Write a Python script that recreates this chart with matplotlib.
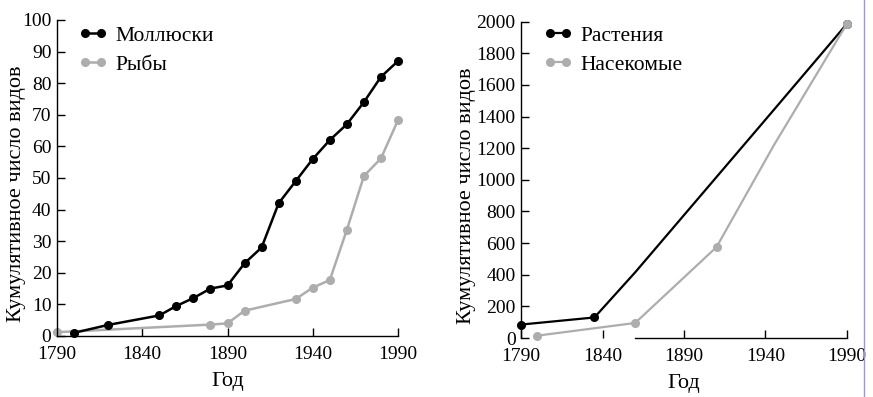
import matplotlib
matplotlib.use("Agg")
import matplotlib.pyplot as plt
from matplotlib.lines import Line2D

plt.rcParams['font.family'] = ['Liberation Serif', 'DejaVu Serif']

# левая панель
years_moll = [1800, 1820, 1850, 1860, 1870, 1880, 1890, 1900, 1910, 1920,
              1930, 1940, 1950, 1960, 1970, 1980, 1990]
moll = [1, 3.5, 6.5, 9.5, 12, 15, 16, 23, 28, 42, 49, 56, 62, 67, 74, 82, 87]
years_fish = [1790, 1880, 1890, 1900, 1930, 1940, 1950, 1960, 1970, 1980, 1990]
fish = [1.2, 3.6, 4, 8, 11.7, 15.3, 17.7, 33.6, 50.6, 56.2, 68.3]

# правая панель
years_plant = [1790, 1835, 1860, 1945, 1990]
plant = [85, 130, 415, 1440, 1985]
plant_marks = [0, 1, 4]
years_ins = [1800, 1860, 1910, 1945, 1990]
insects = [15, 95, 575, 1215, 1985]
ins_marks = [0, 1, 2, 4]

xticks = [1790, 1840, 1890, 1940, 1990]
black = '#000000'
grey = '#adadad'

fig = plt.figure(figsize=(8.73, 3.97), dpi=100)
ax1 = fig.add_axes([0.0653, 0.1537, 0.3906, 0.796])
ax2 = fig.add_axes([0.597, 0.1486, 0.373, 0.797])

ax1.plot(years_fish, fish, color=grey, lw=1.8, marker='o', ms=5.5, label='Рыбы', zorder=2)
ax1.plot(years_moll, moll, color=black, lw=1.8, marker='o', ms=5.5, label='Моллюски', zorder=3)
ax1.set_xlim(1790, 1990)
ax1.set_ylim(0, 100)
ax1.set_yticks(range(0, 101, 10))

ax2.plot(years_plant, plant, color=black, lw=1.6, marker='o', ms=5.5, markevery=plant_marks,
         label='Растения', zorder=2)
ax2.plot(years_ins, insects, color=grey, lw=1.6, marker='o', ms=5.5, markevery=ins_marks,
         label='Насекомые', zorder=3)
ax2.set_xlim(1790, 1990)
ax2.set_ylim(0, 2000)
ax2.set_yticks(range(0, 2001, 200))
ax2.spines['bottom'].set_bounds(1860, 1990)

for ax in (ax1, ax2):
    ax.set_xticks(xticks)
    for s in ('top', 'right'):
        ax.spines[s].set_visible(False)
    for s in ('left', 'bottom'):
        ax.spines[s].set_linewidth(1.0)
    ax.tick_params(direction='in', length=6, width=1.0, labelsize=14, pad=7)
    ax.tick_params(axis='y', pad=4)
    ax.set_xlabel('Год', fontsize=16, labelpad=7)
    ax.set_ylabel('Кумулятивное число видов', fontsize=16)
    for ln in ax.lines:
        ln.set_clip_on(False)

ax1.yaxis.set_label_coords(-0.09, 0.45)
ax2.yaxis.set_label_coords(-0.14, 0.45)
# тик 1890 справа серый, как на рисунке
ax2.xaxis.get_major_ticks()[2].tick1line.set_color(grey)

h1, l1 = ax1.get_legend_handles_labels()
ax1.legend(h1[::-1], l1[::-1], loc='upper left', bbox_to_anchor=(0.09, 0.935),
           bbox_transform=fig.transFigure, frameon=False, fontsize=15.5, numpoints=2,
           handlelength=1.35, handletextpad=0.35, labelspacing=0.4, borderpad=0,
           borderaxespad=0)
h2, l2 = ax2.get_legend_handles_labels()
ax2.legend(h2, l2, loc='upper left', bbox_to_anchor=(0.623, 0.935),
           bbox_transform=fig.transFigure, frameon=False, fontsize=15.5, numpoints=2,
           handlelength=1.35, handletextpad=0.35, labelspacing=0.4, borderpad=0,
           borderaxespad=0)

# тонкая рамка справа
fig.add_artist(Line2D([0.9897, 0.9897], [0, 1], transform=fig.transFigure,
                      color='#9a9ad0', lw=1.0))

fig.savefig('out.png', dpi=100)
